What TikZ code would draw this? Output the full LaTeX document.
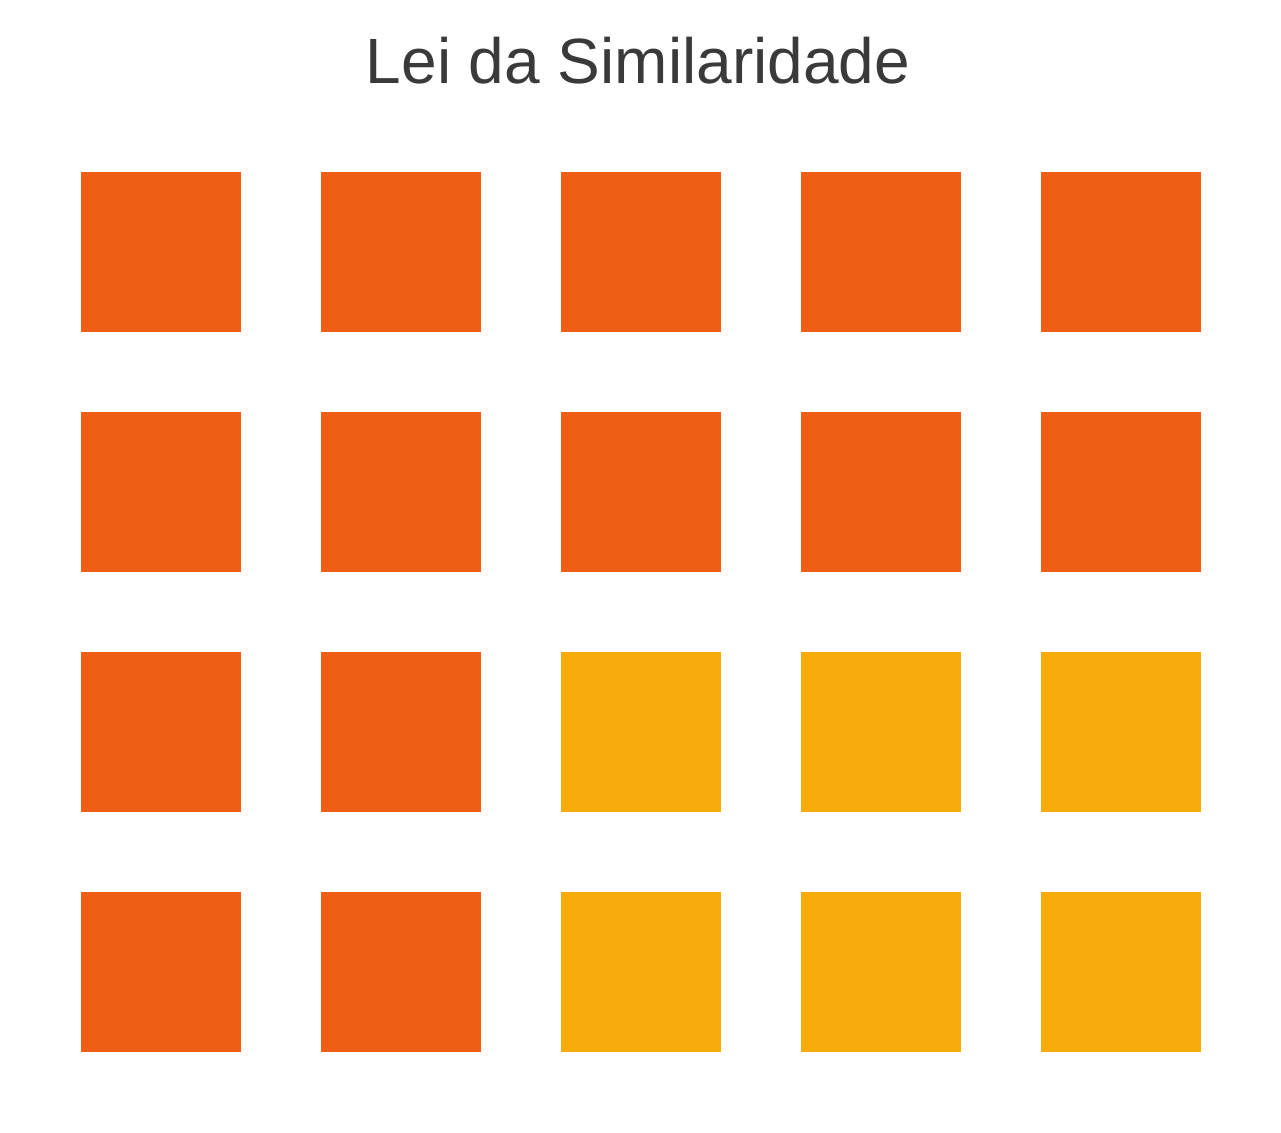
\documentclass[tikz,border=0pt]{standalone}
\usepackage{fontspec}
\setmainfont{Liberation Sans}
\definecolor{titlegray}{HTML}{3A3A3A}
\definecolor{sqorange}{HTML}{EE5E14}
\definecolor{sqyellow}{HTML}{F7AC0C}
\begin{document}
\begin{tikzpicture}[x=1pt,y=-1pt,
  sq/.style={minimum width=160pt,minimum height=160pt,inner sep=0pt,outer sep=0pt,anchor=north west},
  orangesq/.style={sq,fill=sqorange},
  yellowsq/.style={sq,fill=sqyellow}]
\useasboundingbox (0,0) rectangle (1281,1132);
\node[anchor=base,text=titlegray,font=\fontsize{64}{70}\selectfont,inner sep=0pt] (title) at (638,83) {Lei da Similaridade};
\foreach \r in {0,1,2,3}{
  \foreach \c in {0,1,2,3,4}{
    \pgfmathtruncatemacro{\isy}{(\r>1 && \c>1) ? 1 : 0}
    \ifnum\isy=1
      \node[yellowsq] (s\r\c) at ({81+240*\c},{172+240*\r}) {};
    \else
      \node[orangesq] (s\r\c) at ({81+240*\c},{172+240*\r}) {};
    \fi
  }
}
\end{tikzpicture}
\end{document}
